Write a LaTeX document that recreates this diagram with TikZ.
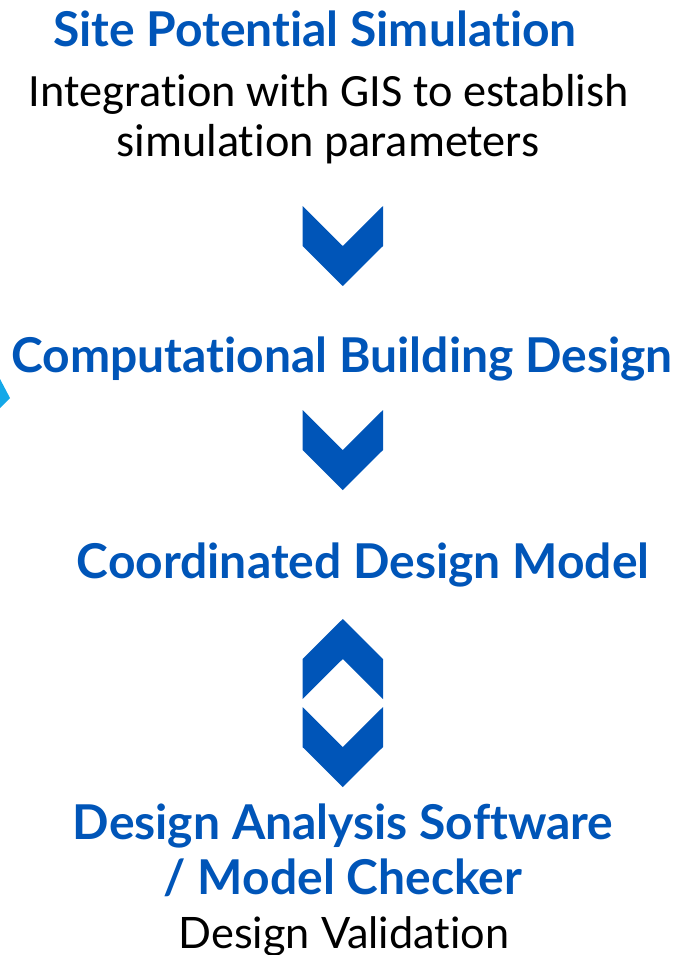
\documentclass[tikz,border=0pt]{standalone}
\usepackage{fontspec}
\defaultfontfeatures{Ligatures=NoCommon,RawFeature={-liga;-clig;-dlig;-calt}}
\setmainfont{Lato}
\newfontfamily\latobold{Lato}[UprightFont=* Bold]
\newfontfamily\bodyfont{Carlito}
\definecolor{headblue}{HTML}{0055B8}
\definecolor{cyanmark}{HTML}{14A8E8}
\begin{document}
\begin{tikzpicture}[x=1pt,y=-1pt,
  head/.style={anchor=base,inner sep=0pt,text=headblue,font=\latobold\fontsize{48}{56}\selectfont},
  body/.style={anchor=base,inner sep=0pt,text=black,font=\bodyfont\fontsize{46.3}{54}\selectfont},
  chev/.style={fill=headblue,draw=none}]
\useasboundingbox (0,0) rectangle (677,955);
% partial cyan mark at left edge
\fill[cyanmark] (0,379) -- (10,398) -- (0,408) -- cycle;
% texts
\node[head] (t1) at (315,47) {Site Potential Simulation};
\node[body] (b1) at (329,107) {Integration with GIS to establish};
\node[body] (b2) at (328,157) {simulation parameters};
\node[head] (t2) at (342,372) {Computational Building Design};
\node[head] (t3) at (363,578) {Coordinated Design Model};
\node[head] (t4) at (343,839) {Design Analysis Software};
\node[head] (t5) at (343,894) {/ Model Checker};
\node[anchor=base,inner sep=0pt,font=\fontsize{43.3}{50}\selectfont] (b3) at (344,948) {Design Validation};
% chevrons
\fill[chev] (302.5,206) -- (342.75,246) -- (383,206) -- (383,246) -- (342.75,286) -- (302.5,246) -- cycle;
\fill[chev] (302.5,410) -- (342.75,450) -- (383,410) -- (383,450) -- (342.75,490) -- (302.5,450) -- cycle;
\fill[chev] (302.5,699) -- (342.75,659) -- (383,699) -- (383,659) -- (342.75,619) -- (302.5,659) -- cycle;
\fill[chev] (302.5,707) -- (342.75,747) -- (383,707) -- (383,747) -- (342.75,787) -- (302.5,747) -- cycle;
\end{tikzpicture}
\end{document}
